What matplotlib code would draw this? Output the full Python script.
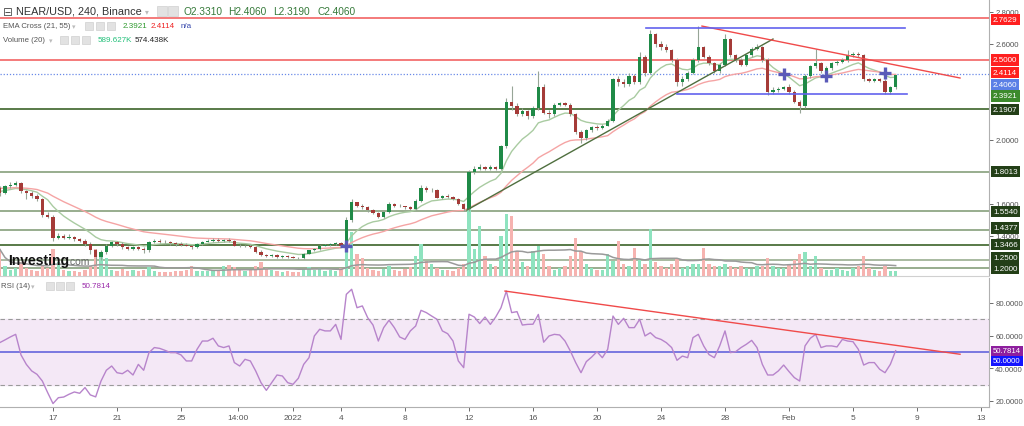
import matplotlib
matplotlib.use("Agg")
import matplotlib.pyplot as plt
from matplotlib.patches import Rectangle
import numpy as np
import pandas as pd

plt.rcParams['font.family'] = ['Liberation Sans', 'DejaVu Sans']

W, H = 1024, 427

# ---- data: 8h candles, x = days from 2022-01-01 ----
start_day = -18.333
first_open = 1.70
closes = [1.67, 1.71, 1.72, 1.73, 1.68, 1.67, 1.65, 1.63, 1.53, 1.52,
          1.39, 1.40, 1.39, 1.395, 1.38, 1.37, 1.35, 1.31, 1.27, 1.30,
          1.34, 1.36, 1.35, 1.33, 1.32, 1.33, 1.32, 1.31, 1.36, 1.37,
          1.365, 1.36, 1.355, 1.35, 1.345, 1.34, 1.33, 1.35, 1.365, 1.37,
          1.375, 1.37, 1.375, 1.37, 1.34, 1.335, 1.34, 1.33, 1.30, 1.28,
          1.275, 1.28, 1.27, 1.275, 1.27, 1.265, 1.26, 1.29, 1.31, 1.32,
          1.34, 1.345, 1.35, 1.355, 1.34, 1.50, 1.61, 1.59, 1.58, 1.56,
          1.545, 1.52, 1.55, 1.60, 1.59, 1.585, 1.58, 1.57, 1.62, 1.70,
          1.685, 1.69, 1.64, 1.65, 1.645, 1.63, 1.60, 1.57, 1.80, 1.82,
          1.83, 1.82, 1.83, 1.82, 1.96, 2.24, 2.21, 2.16, 2.18, 2.15,
          2.20, 2.33, 2.17, 2.16, 2.22, 2.23, 2.22, 2.16, 2.05, 2.01,
          2.06, 2.08, 2.075, 2.09, 2.12, 2.38, 2.36, 2.35, 2.40, 2.36,
          2.52, 2.42, 2.66, 2.60, 2.58, 2.56, 2.50, 2.36, 2.38, 2.42,
          2.50, 2.58, 2.52, 2.48, 2.43, 2.47, 2.63, 2.53, 2.50, 2.47,
          2.53, 2.57, 2.58, 2.50, 2.30, 2.31, 2.32, 2.33, 2.30, 2.24,
          2.21, 2.40, 2.46, 2.48, 2.43, 2.45, 2.48, 2.49, 2.50, 2.53,
          2.54, 2.53, 2.38, 2.37, 2.38, 2.37, 2.30, 2.331, 2.406]
highs = [1.71, 1.72, 1.735, 1.745, 1.74, 1.69, 1.68, 1.66, 1.64, 1.55,
         1.53, 1.42, 1.41, 1.41, 1.40, 1.39, 1.38, 1.36, 1.32, 1.31,
         1.35, 1.37, 1.37, 1.36, 1.34, 1.34, 1.34, 1.33, 1.37, 1.38,
         1.38, 1.375, 1.37, 1.365, 1.36, 1.355, 1.345, 1.355, 1.37, 1.38,
         1.385, 1.385, 1.38, 1.385, 1.375, 1.35, 1.345, 1.35, 1.335, 1.31,
         1.285, 1.285, 1.285, 1.28, 1.28, 1.275, 1.27, 1.295, 1.315, 1.325,
         1.345, 1.35, 1.355, 1.36, 1.36, 1.52, 1.63, 1.615, 1.60, 1.585,
         1.57, 1.55, 1.555, 1.61, 1.605, 1.60, 1.59, 1.585, 1.63, 1.72,
         1.71, 1.70, 1.695, 1.655, 1.66, 1.65, 1.635, 1.605, 1.81, 1.84,
         1.85, 1.84, 1.845, 1.84, 1.97, 2.26, 2.34, 2.23, 2.20, 2.19,
         2.21, 2.43, 2.35, 2.19, 2.23, 2.24, 2.24, 2.23, 2.17, 2.06,
         2.07, 2.09, 2.095, 2.10, 2.13, 2.39, 2.40, 2.38, 2.42, 2.41,
         2.55, 2.53, 2.69, 2.67, 2.62, 2.60, 2.57, 2.51, 2.40, 2.43,
         2.51, 2.71, 2.59, 2.53, 2.49, 2.48, 2.66, 2.64, 2.54, 2.51,
         2.54, 2.58, 2.60, 2.59, 2.51, 2.33, 2.33, 2.34, 2.35, 2.31,
         2.25, 2.41, 2.47, 2.57, 2.49, 2.46, 2.49, 2.50, 2.51, 2.56,
         2.55, 2.55, 2.54, 2.39, 2.39, 2.39, 2.38, 2.34, 2.406]
lows = [1.65, 1.66, 1.70, 1.71, 1.67, 1.63, 1.64, 1.62, 1.52, 1.51,
        1.37, 1.38, 1.38, 1.38, 1.37, 1.36, 1.34, 1.29, 1.225, 1.25,
        1.29, 1.33, 1.34, 1.32, 1.31, 1.31, 1.31, 1.295, 1.30, 1.355,
        1.355, 1.35, 1.345, 1.34, 1.34, 1.335, 1.32, 1.325, 1.345, 1.36,
        1.365, 1.365, 1.365, 1.365, 1.335, 1.33, 1.33, 1.325, 1.295, 1.275,
        1.27, 1.27, 1.265, 1.265, 1.265, 1.26, 1.255, 1.255, 1.285, 1.305,
        1.315, 1.335, 1.34, 1.345, 1.33, 1.33, 1.49, 1.58, 1.57, 1.55,
        1.54, 1.51, 1.51, 1.545, 1.58, 1.58, 1.57, 1.56, 1.565, 1.61,
        1.675, 1.675, 1.635, 1.63, 1.64, 1.625, 1.595, 1.555, 1.555, 1.79,
        1.815, 1.81, 1.815, 1.81, 1.815, 1.95, 2.19, 2.15, 2.15, 2.13,
        2.14, 2.19, 2.16, 2.14, 2.15, 2.21, 2.21, 2.15, 2.04, 1.98,
        2.00, 2.05, 2.065, 2.07, 2.085, 2.11, 2.34, 2.33, 2.34, 2.35,
        2.35, 2.40, 2.41, 2.58, 2.56, 2.55, 2.49, 2.34, 2.34, 2.37,
        2.41, 2.49, 2.51, 2.47, 2.42, 2.42, 2.46, 2.52, 2.49, 2.46,
        2.46, 2.52, 2.56, 2.49, 2.28, 2.29, 2.30, 2.31, 2.29, 2.23,
        2.17, 2.20, 2.39, 2.45, 2.42, 2.42, 2.44, 2.47, 2.48, 2.49,
        2.52, 2.52, 2.37, 2.36, 2.36, 2.36, 2.29, 2.29, 2.319]
# volume in panel units (panel height = 277 units)
volumes = [27, 10, 6, 8, 14, 8, 6, 5, 10, 8,
           27, 14, 6, 5, 5, 4, 6, 10, 27, 22,
           18, 6, 5, 7, 5, 6, 5, 6, 9, 5,
           4, 4, 4, 5, 5, 6, 10, 5, 5, 5,
           6, 6, 10, 11, 9, 6, 5, 7, 10, 14,
           8, 6, 5, 4, 5, 4, 4, 7, 9, 6,
           8, 5, 6, 5, 8, 40, 44, 22, 18, 8,
           6, 5, 7, 10, 6, 5, 7, 9, 20, 32,
           15, 12, 8, 6, 6, 5, 8, 12, 68, 27,
           50, 20, 12, 10, 40, 62, 60, 25, 14, 10,
           25, 30, 22, 10, 6, 8, 10, 20, 38, 25,
           12, 8, 6, 6, 22, 15, 35, 12, 10, 28,
           16, 12, 47, 14, 10, 8, 12, 18, 8, 10,
           12, 12, 28, 12, 10, 10, 12, 10, 8, 10,
           8, 7, 10, 10, 18, 10, 8, 8, 12, 16,
           22, 24, 10, 20, 8, 6, 6, 8, 6, 5,
           8, 10, 20, 8, 6, 5, 10, 5, 5]
rsi_values = [55.7, 57.4, 59.2, 60.8, 48.2, 42.4, 38.4, 36.3, 32.2, 25.1,
              18.4, 22.0, 22.4, 24.1, 25.5, 24.7, 28.2, 23.7, 22.5, 32.2,
              38.8, 41.4, 37.3, 36.7, 38.8, 35.9, 42.4, 38.8, 49.6, 52.7,
              52.2, 51.0, 49.6, 49.6, 48.2, 44.5, 44.5, 51.6, 56.7, 56.7,
              58.4, 53.7, 52.7, 53.7, 43.5, 41.4, 45.5, 44.5, 38.4, 31.2,
              26.5, 31.2, 35.9, 35.3, 31.2, 30.2, 33.9, 42.4, 46.5, 59.8,
              63.9, 62.9, 62.9, 66.9, 57.7, 85.3, 88.4, 77.1, 78.2, 71.0,
              66.5, 56.7, 64.9, 69.4, 64.9, 59.2, 57.7, 62.9, 65.9, 75.5,
              74.1, 72.0, 70.0, 62.9, 61.2, 56.7, 44.5, 40.4, 73.1, 71.4,
              67.4, 71.4, 66.9, 71.4, 77.1, 87.3, 74.1, 74.7, 66.5, 66.9,
              67.0, 73.0, 56.0, 59.8, 60.8, 60.4, 56.7, 50.6, 43.5, 37.3,
              44.1, 46.9, 50.2, 46.5, 51.6, 72.0, 66.9, 70.6, 64.9, 64.9,
              70.0, 59.8, 61.8, 58.8, 57.7, 55.7, 52.7, 44.9, 47.5, 46.5,
              58.8, 60.8, 53.7, 48.4, 46.5, 53.7, 62.9, 49.6, 50.2, 52.7,
              54.7, 57.1, 52.7, 42.4, 35.9, 35.9, 38.4, 42.0, 38.0, 34.3,
              32.2, 53.7, 58.4, 60.8, 52.7, 53.7, 53.7, 53.1, 57.7, 56.7,
              56.3, 51.6, 42.0, 43.5, 43.5, 39.4, 37.3, 42.4, 50.78]

ema_seed_fast, ema_seed_slow = 1.68, 1.70

# horizontal levels
levels = [2.7629, 2.5, 2.1907, 1.8013, 1.554, 1.4377, 1.3466, 1.25, 1.2]
level_colors = ['#f47a7a', '#f47a7a', '#587a48', '#98ad8e', '#98ad8e',
                '#98ad8e', '#587a48', '#a8baa0', '#98ad8e']
ema_line_level = 2.4114

# drawn trendlines / channel (day, price)
green_trend = ([10.875, 30.0], [1.5625, 2.631])
red_trend = ([25.56, 41.69], [2.712, 2.3875])
chan_top = ([22.06, 38.25], [2.70, 2.70])
chan_bot = ([24.0, 38.38], [2.2875, 2.2875])
rsi_trend = ([13.25, 41.69], [87.3, 48.6])

# right price boxes
box_text = ['2.7629', '2.5000', '2.4114', '2.4060', '2.3921', '2.1907',
            '1.8013', '1.5540', '1.4377', '1.3466', '1.2500', '1.2000']
box_pos = [2.756, 2.5, 2.419, 2.344, 2.275, 2.1907,
           1.8013, 1.554, 1.45, 1.3466, 1.2625, 1.194]
box_color = ['#ff1f1f', '#ff1f1f', '#ff1f1f', '#5b7fe6', '#3d8a2c', '#233f17',
             '#233f17', '#233f17', '#233f17', '#233f17', '#233f17', '#233f17']
price_ticks = [2.8, 2.6, 2.0, 1.6, 1.4]

xtick_days = [-15, -11, -7, -3.42, 0, 3, 7, 11, 15, 19, 23, 27, 31, 35, 39, 43]
xtick_labels = ['17', '21', '25', '14:00', '2022', '4', '8', '12', '16', '20',
                '24', '28', 'Feb', '5', '9', '13']

# ---- derived series ----
closes = np.array(closes)
n = len(closes)
days = start_day + np.arange(n) / 3.0
opens = np.r_[first_open, closes[:-1]]
up = closes >= opens


def ema(vals, span, seed):
    a = 2.0 / (span + 1)
    out, prev = [], seed
    for v in vals:
        prev = prev + a * (v - prev)
        out.append(prev)
    return np.array(out)


ema_fast = ema(closes, 10.5, ema_seed_fast)
ema_slow = ema(closes, 27.5, ema_seed_slow)
vol_ma = pd.Series(volumes).rolling(20, min_periods=1).mean()

# ---- figure ----
fig = plt.figure(figsize=(10.24, 4.27), dpi=100)
ax = fig.add_axes([0, 1 - 277 / H, 989 / W, 277 / H])
axr = fig.add_axes([0, 1 - 408 / H, 989 / W, 129 / H], sharex=ax)

xlim = (-18.3125, 43.5)
ax.set_xlim(*xlim)
ax.set_ylim(1.15, 2.88125)

for lv, c in zip(levels, level_colors):
    ax.axhline(lv, color=c, lw=1.4, zorder=1)
ax.axhline(ema_line_level, color='#6a8ae8', lw=0.9, ls=(0, (1, 1.5)), zorder=1)

# volume bars on bottom of main panel
vt = ax.get_xaxis_transform()
vcol = np.where(up, '#8ee3bf', '#f6b3b0')
ax.bar(days, np.array(volumes) / 277.0, width=0.22, color=vcol,
       transform=vt, zorder=2)
ax.plot(days, vol_ma / 277.0, color='#9a9a9a', lw=1.1, transform=vt, zorder=2)

# EMAs
ax.plot(days, ema_fast, color='#a9cba1', lw=1.0, zorder=3)
ax.plot(days, ema_slow, color='#f5a4a4', lw=1.0, zorder=3)

# candles
ccol = np.where(up, '#1f8a47', '#a53b38')
ax.vlines(days, lows, highs, color='#97a597', lw=0.8, zorder=4)
body_h = np.maximum(np.abs(closes - opens), 0.004)
ax.bar(days, body_h, bottom=np.minimum(opens, closes), width=0.22,
       color=ccol, zorder=5)

# trendlines and channel
ax.plot(*green_trend, color='#4f6f3f', lw=1.0, zorder=6)
ax.plot(*red_trend, color='#f04a4a', lw=1.0, zorder=6)
ax.plot(*chan_top, color='#6262ee', lw=1.2, zorder=6)
ax.plot(*chan_bot, color='#6262ee', lw=1.2, zorder=6)

# EMA cross markers
diff = ema_fast - ema_slow
cross = np.where(np.sign(diff[1:]) != np.sign(diff[:-1]))[0] + 1
ax.plot(days[cross], ema_slow[cross], '+', ms=8, mew=2.4, color='#5a5ab8',
        zorder=7, ls='none')

# price axis
for a in (ax, axr):
    for s in ('top', 'left'):
        a.spines[s].set_visible(False)
    a.spines['right'].set_color('#b0b0b0')
    a.yaxis.tick_right()
    a.tick_params(axis='y', colors='#555555', labelsize=5.6, length=3,
                  width=0.6, pad=1.5)
ax.spines['bottom'].set_color('#d0d0d0')
ax.set_yticks(price_ticks)
ax.set_yticklabels(['%.4f' % p for p in price_ticks])
ax.tick_params(axis='x', bottom=False, labelbottom=False)

ytr = ax.get_yaxis_transform()
for t, p, c in zip(box_text, box_pos, box_color):
    ax.text(1.004, p, t, transform=ytr, ha='left', va='center', fontsize=5.8,
            color='white', zorder=20, clip_on=False,
            bbox=dict(boxstyle='square,pad=0.25', fc=c, ec='none'))

# ---- RSI panel ----
axr.set_ylim(16.3, 95.3)
axr.axhspan(30, 70, color='#f4e8f6', zorder=0)
axr.axhline(70, color='#9a9a9a', lw=0.8, ls=(0, (4, 3)))
axr.axhline(30, color='#9a9a9a', lw=0.8, ls=(0, (4, 3)))
axr.axhline(50, color='#6565dc', lw=1.2)
axr.plot(days, rsi_values, color='#b784cb', lw=1.0)
axr.plot(*rsi_trend, color='#f04a4a', lw=1.0)
axr.set_yticks([80, 60, 40, 20])
axr.set_yticklabels(['80.0000', '60.0000', '40.0000', '20.0000'])
rtr = axr.get_yaxis_transform()
axr.text(1.004, 50.6, '50.7814', transform=rtr, ha='left', va='center',
         fontsize=5.6, color='white', clip_on=False, zorder=20,
         bbox=dict(boxstyle='square,pad=0.25', fc='#8e1f9e', ec='none'))
axr.text(1.004, 44.5, '50.0000', transform=rtr, ha='left', va='center',
         fontsize=5.6, color='white', clip_on=False, zorder=20,
         bbox=dict(boxstyle='square,pad=0.25', fc='#1414ff', ec='none'))
axr.spines['bottom'].set_color('#b0b0b0')
axr.set_xticks(xtick_days)
axr.set_xticklabels(xtick_labels)
axr.tick_params(axis='x', colors='#555555', labelsize=6.0, length=3,
                width=0.6, pad=2)
axr.set_xlim(*xlim)


# ---- header texts ----
def fx(x):
    return x / W


def fy(y):
    return 1 - y / H


def icons(xs, y, s):
    for x in xs:
        fig.patches.append(Rectangle((fx(x), fy(y + s / 2)), s / W, s / H,
                                     transform=fig.transFigure,
                                     fc='#e2e2e2', ec='#d0d0d0', lw=0.5))


fig.text(fx(3), fy(12), '⊟', fontsize=8.5, color='#555555', va='center',
         family='DejaVu Sans')
fig.text(fx(16), fy(12), 'NEAR/USD, 240, Binance', fontsize=7.8,
         color='#333333', va='center')
fig.text(fx(145), fy(12), '▾', fontsize=5.5, color='#bbbbbb', va='center',
         family='DejaVu Sans')
icons([157, 168], 12, 10)
for x, t in zip([183, 228, 273, 317],
                ['O2.3310', 'H2.4060', 'L2.3190', 'C2.4060']):
    fig.text(fx(x), fy(12), t, fontsize=7.3, color='#367a3a', va='center')

fig.text(fx(3), fy(27), 'EMA Cross (21, 55)', fontsize=5.6, color='#555555',
         va='center')
fig.text(fx(72), fy(27), '▾', fontsize=5, color='#bbbbbb', va='center',
         family='DejaVu Sans')
icons([85, 96, 107], 27, 8)
fig.text(fx(123), fy(27), '2.3921', fontsize=5.8, color='#2f9a2f', va='center')
fig.text(fx(151), fy(27), '2.4114', fontsize=5.8, color='#ee2222', va='center')
fig.text(fx(181), fy(27), 'n/a', fontsize=5.8, color='#3344aa', va='center')

fig.text(fx(3), fy(41), 'Volume (20)', fontsize=5.6, color='#555555',
         va='center')
fig.text(fx(49), fy(41), '▾', fontsize=5, color='#bbbbbb', va='center',
         family='DejaVu Sans')
icons([60, 71, 82], 41, 8)
fig.text(fx(98), fy(41), '589.627K', fontsize=5.8, color='#22c07a',
         va='center')
fig.text(fx(135), fy(41), '574.438K', fontsize=5.8, color='#222222',
         va='center')

fig.text(fx(1), fy(287), 'RSI (14)', fontsize=5.6, color='#555555',
         va='center')
fig.text(fx(31), fy(287), '▾', fontsize=5, color='#bbbbbb', va='center',
         family='DejaVu Sans')
icons([46, 56, 66], 287, 8)
fig.text(fx(82), fy(287), '50.7814', fontsize=5.8, color='#9a2aaa',
         va='center')

# watermark
fig.text(fx(8), fy(261), 'Investing', fontsize=10, weight='bold',
         color='#111111', va='center')
fig.text(fx(67), fy(262), '.com', fontsize=7.5, color='#666666', va='center')

fig.savefig('out.png', dpi=100)
